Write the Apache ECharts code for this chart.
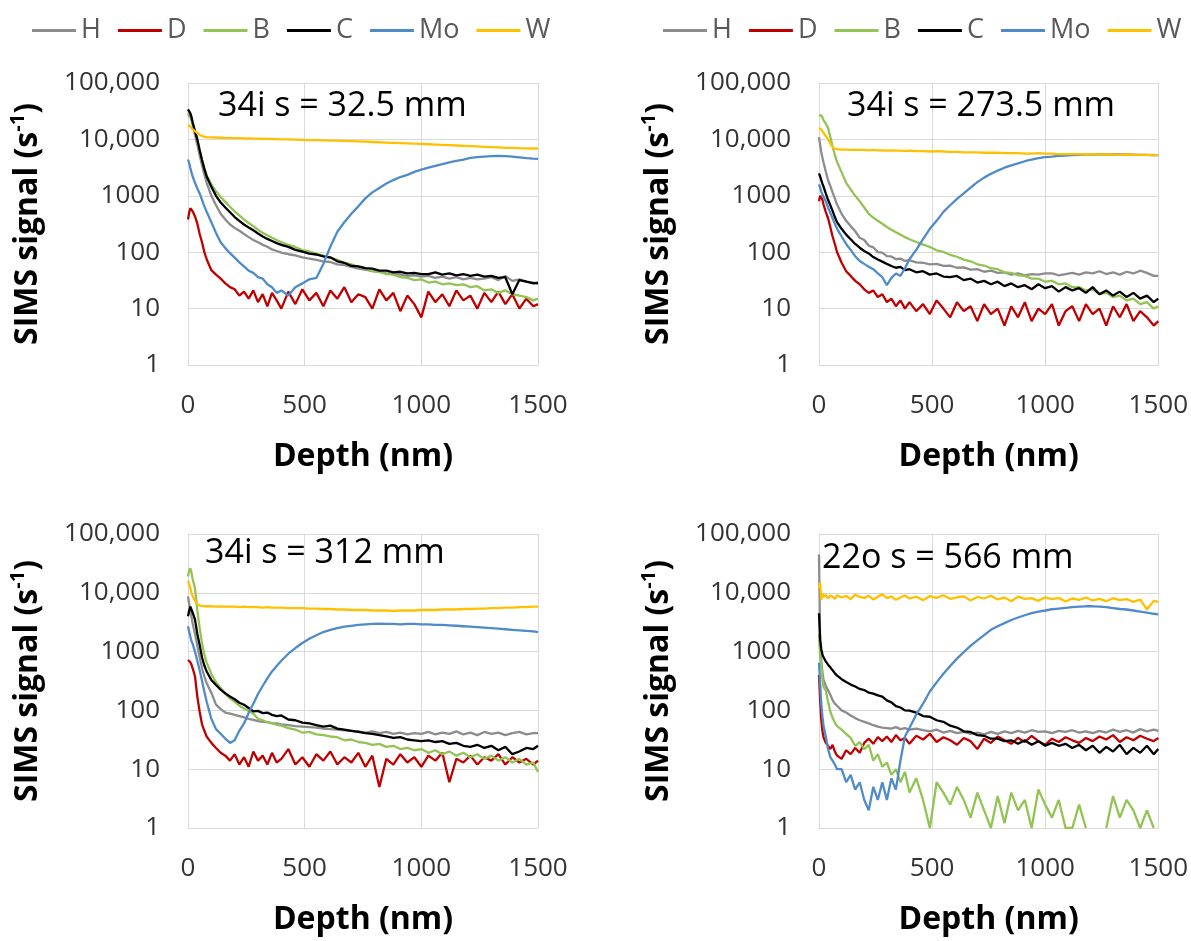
<!DOCTYPE html>
<html>
<head>
<meta charset="utf-8">
<script src="https://cdn.jsdelivr.net/npm/echarts@6/dist/echarts.min.js"></script>
<style>
html,body{margin:0;padding:0;background:#fff;}
#chart{width:1191px;height:941px;}
</style>
</head>
<body>
<div id="chart"></div>
<script>
// ---------- data ----------
const elementNames = ['H','D','B','C','Mo','W'];
const elementColors = ['#8c8c8c','#c00000','#92c353','#000000','#4f8ac9','#ffc000'];
const panelTitles = ['34i s = 32.5 mm','34i s = 273.5 mm','34i s = 312 mm','22o s = 566 mm'];
const yTickValues = [1,10,100,1000,10000,100000];
const yTickLabels = ['1','10','100','1000','10,000','100,000'];
const xTickValues = [0,500,1000,1500];
const xTickLabels = ['0','500','1000','1500'];

const depth = [0,5,10,15,20,30,40,50,60,70,80,
  100,120,140,160,180,200,220,240,260,280,300,320,340,360,380,400,
  430,460,490,520,550,580,610,640,670,700,730,760,790,820,850,880,910,940,970,1000,
  1030,1060,1090,1120,1150,1180,1210,1240,1270,1300,1330,1360,1390,1420,1450,1480,1500];

// Panel 1: 34i s = 32.5 mm
const p1H = [28000,27000,25000,22000,18000,12000,8000,5200,3500,2400,1700,
  1000,680,480,380,310,270,240,210,185,165,150,135,125,112,105,98,
  92,88,81,77,73,69,67,61,59,55,51,49,46,45,42,41,40,38,39,37,
  38,35,37,34,36,33,35,33,34,36,32,38,31,33,30,29,27];
const p1D = [380,500,600,590,530,430,320,210,150,100,75,
  48,40,34,28,24,22,17,20,15,21,13,18,11,19,14,10,
  20,12,22,14,19,11,21,15,24,13,18,16,10,22,14,19,9,17,12,7,
  20,13,18,11,21,14,17,10,19,13,20,12,18,10,15,11,12];
const p1B = [30000,29000,27000,24000,19000,13500,9500,6200,4300,3100,2300,
  1600,1200,950,780,640,530,450,380,330,290,250,220,200,180,165,150,
  135,124,109,103,94,87,79,73,65,61,55,52,46,45,41,40,36,35,32,33,
  29,30,27,28,26,27,24,25,21,22,19,21,18,17,16,14,15];
const p1C = [34000,32000,29000,25000,20000,14000,10000,6500,4300,3000,2200,
  1450,1000,760,620,510,420,360,310,275,245,215,190,172,158,145,135,
  124,110,102,94,91,84,81,69,65,57,56,52,51,47,47,44,45,42,43,41,
  41,44,40,42,39,41,38,40,37,38,35,36,18,32,30,28,29];
const p1Mo = [4400,3800,3100,2600,2200,1700,1350,1100,850,650,520,
  340,220,150,118,96,80,66,56,47,43,36,34,27,24,19,21,
  17,24,28,33,35,62,125,230,340,480,650,900,1150,1380,1650,1900,2150,2350,2650,2900,
  3150,3400,3650,3900,4150,4400,4700,4850,4950,5050,5100,5050,4950,4800,4650,4550,4500];
const p1W = [18000,17500,17000,16000,15000,14000,13000,12000,11500,11200,11000,
  10900,10800,10700,10600,10600,10500,10500,10400,10400,10300,10300,10200,10200,10100,10100,10000,
  10000,9900,9800,9700,9700,9600,9500,9500,9400,9300,9200,9100,9000,8900,8800,8700,8600,8500,8400,8300,
  8200,8100,8000,7900,7800,7700,7600,7500,7400,7300,7200,7100,7100,7000,6950,6900,6900];

// Panel 2: 34i s = 273.5 mm
const p2H = [11000,8000,6000,4800,3900,2700,1900,1500,1150,900,700,
  480,360,290,235,180,165,130,122,100,98,85,84,75,77,70,72,
  66,65,61,62,57,58,53,54,49,50,45,47,43,44,40,42,39,41,40,42,
  42,39,41,43,40,44,42,46,41,44,40,45,42,47,43,38,38];
const p2D = [800,1000,950,850,700,520,400,280,190,140,100,
  65,46,38,31,27,22,19,21,16,18,13,15,11,14,10,13,
  9,12,8,14,10,7,13,9,11,6,12,8,10,5,11,7,13,6,10,8,
  12,5,9,11,6,12,8,10,5,11,7,12,6,9,7,5,6];
const p2B = [26000,27500,27000,25000,22000,19000,16000,11000,7500,5300,4000,
  2600,1700,1300,1000,800,620,480,410,360,320,280,250,225,205,185,170,
  152,136,124,108,101,90,83,74,69,61,58,52,50,44,43,39,38,34,34,30,
  31,27,28,24,24,21,22,18,19,16,17,14,15,12,13,10,11];
const p2C = [2500,2200,1900,1650,1450,1100,850,680,540,420,340,
  260,205,170,140,120,105,95,82,74,68,62,57,53,55,48,50,
  44,46,40,42,37,36,38,32,34,29,31,27,30,25,28,24,26,22,27,23,
  25,20,24,21,23,19,24,18,21,17,20,16,19,15,17,13,15];
const p2Mo = [1600,1400,1200,1050,980,800,620,500,400,320,260,
  190,140,110,85,70,62,55,50,42,36,26,35,42,38,52,75,
  110,170,260,360,520,680,880,1100,1400,1750,2100,2450,2800,3150,3450,3750,4100,4400,4650,4850,
  4950,5100,5150,5250,5300,5350,5400,5450,5400,5450,5400,5400,5350,5300,5300,5250,5250];
const p2W = [16000,15500,15000,14000,13000,11500,10000,8500,7300,6900,6700,
  6600,6600,6500,6600,6500,6500,6400,6500,6400,6400,6300,6400,6300,6300,6200,6300,
  6200,6200,6100,6200,6100,6000,6000,5900,5900,5900,5800,5800,5800,5700,5700,5700,5600,5600,5700,5600,
  5600,5500,5500,5500,5500,5400,5500,5400,5400,5400,5300,5400,5300,5300,5300,5200,5300];

// Panel 3: 34i s = 312 mm
const p3H = [8700,6500,5000,3900,3000,2000,1250,800,520,380,290,
  200,125,105,92,88,84,80,76,72,69,66,64,63,61,60,58,
  56,54,53,52,51,49,48,47,46,45,44,42,44,41,43,40,42,39,41,40,
  43,39,42,40,44,39,42,38,43,40,42,38,41,43,39,41,41];
const p3D = [720,700,660,600,520,380,170,95,58,45,36,
  28,23,19,17,14,18,12,16,11,20,14,17,12,19,13,15,
  22,12,16,11,18,14,20,12,16,13,19,11,17,5,15,12,18,13,16,11,
  17,14,19,6,15,13,17,12,16,14,18,12,16,13,15,12,14];
const p3B = [19000,24000,26000,22000,17000,12000,5000,2500,1400,900,650,
  420,300,240,190,160,140,120,108,98,88,72,68,63,60,57,55,
  50,47,42,43,39,38,36,35,31,32,29,28,26,27,24,25,22,23,21,22,
  19,21,18,20,17,19,16,18,15,17,14,16,13,15,12,13,9];
const p3C = [4000,5000,5800,5500,4600,3500,2000,1300,800,580,460,
  330,270,225,195,172,155,135,125,110,96,98,90,92,84,80,82,
  70,68,62,60,56,53,55,49,47,45,43,41,40,38,36,34,35,32,31,30,
  31,29,30,27,28,25,24,26,23,25,21,24,18,20,23,22,25];
const p3Mo = [2700,2200,1800,1500,1350,1000,700,480,320,210,140,
  72,48,40,33,28,31,45,60,90,130,190,260,350,460,570,700,
  920,1150,1400,1650,1900,2150,2350,2500,2650,2750,2850,2900,2950,3000,2950,2950,2900,2950,2950,2900,
  2900,2850,2850,2800,2750,2700,2650,2600,2550,2500,2450,2400,2350,2300,2250,2200,2150];
const p3W = [16000,14000,12000,10000,8800,7300,6400,6100,6000,5900,5900,
  5900,5800,5900,5800,5800,5800,5700,5800,5700,5700,5700,5600,5700,5600,5600,5600,
  5500,5500,5500,5400,5400,5300,5300,5200,5200,5100,5100,5100,5000,5000,5000,4900,5000,5000,5000,5100,
  5100,5100,5200,5200,5200,5300,5300,5400,5400,5500,5500,5600,5600,5700,5700,5800,5800];

// Panel 4: 22o s = 566 mm
const p4H = [45000,1600,700,450,330,260,220,185,150,130,120,
  100,92,82,74,68,64,60,56,53,51,50,49,52,48,50,47,
  49,46,44,47,42,45,41,43,40,42,39,43,40,44,41,45,42,46,43,44,
  41,45,43,46,42,44,41,45,42,47,43,46,42,48,44,47,45];
const p4D = [400,150,70,45,35,28,25,22,26,20,17,
  15,21,18,23,19,28,33,27,35,30,36,29,38,31,34,27,
  37,32,40,29,35,31,26,34,30,22,33,28,36,31,27,34,29,37,30,26,
  33,29,35,31,28,34,30,36,32,38,29,35,31,37,33,30,34];
const p4B = [2000,800,600,350,250,220,140,95,75,62,54,
  47,40,34,25,29,22,26,14,18,11,13,8,10,6,9,4,
  7,3,1,6,4,2.5,5,3,1.5,4,2,1,3.5,1.2,4,2,3,1,4.5,2.5,
  1.5,3,1,1,2.5,1,null,null,1,3.5,1.5,3,2,1,2,1,null];
const p4C = [4500,1600,1100,900,800,680,600,540,480,430,390,
  340,305,275,255,232,222,200,193,180,172,148,137,118,112,100,99,
  92,80,78,68,64,55,51,44,43,38,37,33,33,30,31,27,31,26,30,25,
  28,25,27,23,26,21,25,19,24,20,26,18,23,19,25,18,22];
const p4Mo = [650,300,130,80,55,36,22,16,14,12,10,
  10,6,8,4.5,6,3,2,5,3,6,3,7,4.5,14,36,50,
  85,130,210,300,420,570,760,980,1250,1550,1900,2350,2700,3050,3450,3800,4150,4500,4800,5000,
  5250,5400,5550,5700,5800,5900,5900,5800,5700,5500,5300,5200,5000,4800,4600,4400,4300];
const p4W = [12000,15000,7600,9800,8500,9200,8000,9000,8600,7900,9100,
  8400,8800,7800,9300,8500,8200,8900,7700,8600,9400,8100,8700,7600,8300,9000,8000,
  8600,7500,8800,8200,9100,7900,8400,8700,7400,8500,8000,8900,7700,8300,7200,8600,7900,8100,7300,8400,
  7800,8200,7100,8000,7600,8300,7400,7900,7200,8100,7500,7800,7000,7700,5200,7300,7000];

// ---------- layout ----------
const FONT = "'Open Sans', 'Liberation Sans', sans-serif";
const panels = [
  {series:[p1H,p1D,p1B,p1C,p1Mo,p1W], grid:{left:188, top:83, width:350, height:282}, title:{left:218, top:89}},
  {series:[p2H,p2D,p2B,p2C,p2Mo,p2W], grid:{left:819, top:83, width:342, height:282}, title:{left:847, top:89}},
  {series:[p3H,p3D,p3B,p3C,p3Mo,p3W], grid:{left:188, top:534, width:350, height:294}, title:{left:205, top:536}},
  {series:[p4H,p4D,p4B,p4C,p4Mo,p4W], grid:{left:819, top:534, width:342, height:294}, title:{left:822, top:541}}
];

const mk = vals => depth.map((d,i) => [d, vals[i] == null ? '-' : vals[i]]);

const grids = [], xAxes = [], yAxes = [], series = [], titles = [];
panels.forEach((p, pi) => {
  grids.push(Object.assign({containLabel:false}, p.grid));
  xAxes.push({
    type:'value', gridIndex:pi, min:0, max:1500, interval:500,
    axisLine:{show:true, lineStyle:{color:'#d9d9d9', width:1}},
    axisTick:{show:false},
    splitLine:{show:true, lineStyle:{color:'#d9d9d9', width:1}},
    axisLabel:{color:'#333333', fontSize:26, fontFamily:FONT, margin:28,
      formatter: v => { const k = xTickValues.indexOf(Math.round(v)); return k >= 0 ? xTickLabels[k] : ''; }},
    name:'Depth (nm)', nameLocation:'middle', nameGap:76,
    nameTextStyle:{color:'#000', fontSize:32, fontWeight:'bold', fontFamily:FONT}
  });
  yAxes.push({
    type:'log', logBase:10, gridIndex:pi, min:1, max:100000,
    axisLine:{show:true, lineStyle:{color:'#d9d9d9', width:1}},
    axisTick:{show:false},
    splitLine:{show:true, lineStyle:{color:'#d9d9d9', width:1}},
    axisLabel:{color:'#333333', fontSize:26, fontFamily:FONT, margin:28,
      formatter: v => { const k = yTickValues.indexOf(Math.round(v)); return k >= 0 ? yTickLabels[k] : ''; }},
    name:'{a|SIMS signal (s}{b|-1}{a|)}', nameLocation:'middle', nameGap:140, nameRotate:90,
    nameTextStyle:{
      rich:{
        a:{color:'#000', fontSize:32, fontWeight:'bold', fontFamily:FONT, lineHeight:40},
        b:{color:'#000', fontSize:20, fontWeight:'bold', fontFamily:FONT, lineHeight:26, verticalAlign:'top'}
      }
    }
  });
  titles.push({
    text: panelTitles[pi], left:p.title.left, top:p.title.top, padding:0,
    textStyle:{color:'#000', fontSize:34, fontWeight:'normal', fontFamily:FONT}
  });
  p.series.forEach((vals, si) => {
    series.push({
      name: elementNames[si], type:'line', xAxisIndex:pi, yAxisIndex:pi,
      data: mk(vals), showSymbol:false, symbol:'none', smooth:false,
      connectNulls:false, clip:true,
      lineStyle:{color:elementColors[si], width:2.3},
      itemStyle:{color:elementColors[si]},
      emphasis:{disabled:true}
    });
  });
});

const legendBase = {
  data: elementNames, orient:'horizontal', icon:'rect', itemWidth:44, itemHeight:3, itemGap:17,
  textStyle:{color:'#595959', fontSize:27, fontFamily:FONT}, top:12, selectedMode:false
};

const chart = echarts.init(document.getElementById('chart'), null, {renderer:'canvas'});
chart.setOption({
  backgroundColor:'#ffffff',
  animation:false,
  title: titles,
  legend: [Object.assign({left:27}, legendBase), Object.assign({left:658}, legendBase)],
  grid: grids,
  xAxis: xAxes,
  yAxis: yAxes,
  series: series
});
</script>
</body>
</html>
